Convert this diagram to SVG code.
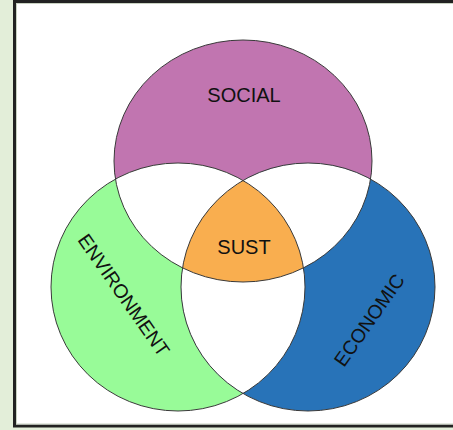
<svg xmlns="http://www.w3.org/2000/svg" xmlns:xlink="http://www.w3.org/1999/xlink" width="453" height="430" viewBox="0 0 453 430">
  <style>
    .lbl { font-family: "Liberation Sans", Arial, sans-serif; fill: #111; text-anchor: middle; }
    .edge { fill: none; stroke: #3a3a3a; stroke-width: 1; }
    .w { fill: #ffffff; }
  </style>
  <defs>
    <ellipse id="eS" cx="243" cy="161" rx="129" ry="121"/>
    <ellipse id="eE" cx="178" cy="287" rx="127" ry="124"/>
    <ellipse id="eC" cx="308" cy="287" rx="127" ry="124"/>
    <clipPath id="cS"><use xlink:href="#eS"/></clipPath>
    <clipPath id="cE"><use xlink:href="#eE"/></clipPath>
    <clipPath id="cC"><use xlink:href="#eC"/></clipPath>
  </defs>

  <rect x="0" y="0" width="453" height="430" fill="#e3eed9"/>
  <g id="frame">
    <rect x="14.5" y="1.5" width="450" height="424.5" fill="#ffffff" stroke="#222" stroke-width="3"/>
    <rect x="16.5" y="3.5" width="446" height="420.5" fill="none" stroke="#c9d2c2" stroke-width="1"/>
  </g>

  <g id="social"><use xlink:href="#eS" fill="#c175b0"/></g>
  <g id="environment"><use xlink:href="#eE" fill="#98fb98"/></g>
  <g id="economic"><use xlink:href="#eC" fill="#2873b8"/></g>

  <g id="overlaps">
    <g clip-path="url(#cS)">
      <use xlink:href="#eE" class="w"/>
      <use xlink:href="#eC" class="w"/>
    </g>
    <g clip-path="url(#cE)">
      <use xlink:href="#eC" class="w"/>
    </g>
  </g>

  <g id="sust">
    <g clip-path="url(#cS)">
      <use xlink:href="#eE" clip-path="url(#cC)" fill="#f9ae4f"/>
    </g>
  </g>

  <g id="outlines">
    <use xlink:href="#eS" class="edge"/>
    <use xlink:href="#eE" class="edge"/>
    <use xlink:href="#eC" class="edge"/>
  </g>

  <g id="labels">
    <text class="lbl" x="244" y="102" font-size="20">SOCIAL</text>
    <text class="lbl" x="244" y="254" font-size="20">SUST</text>
    <text class="lbl" font-size="19.5" transform="translate(124 295) rotate(55)" x="0" y="7">ENVIRONMENT</text>
    <text class="lbl" font-size="19.5" transform="translate(369 320) rotate(-55)" x="0" y="7">ECONOMIC</text>
  </g>
</svg>
